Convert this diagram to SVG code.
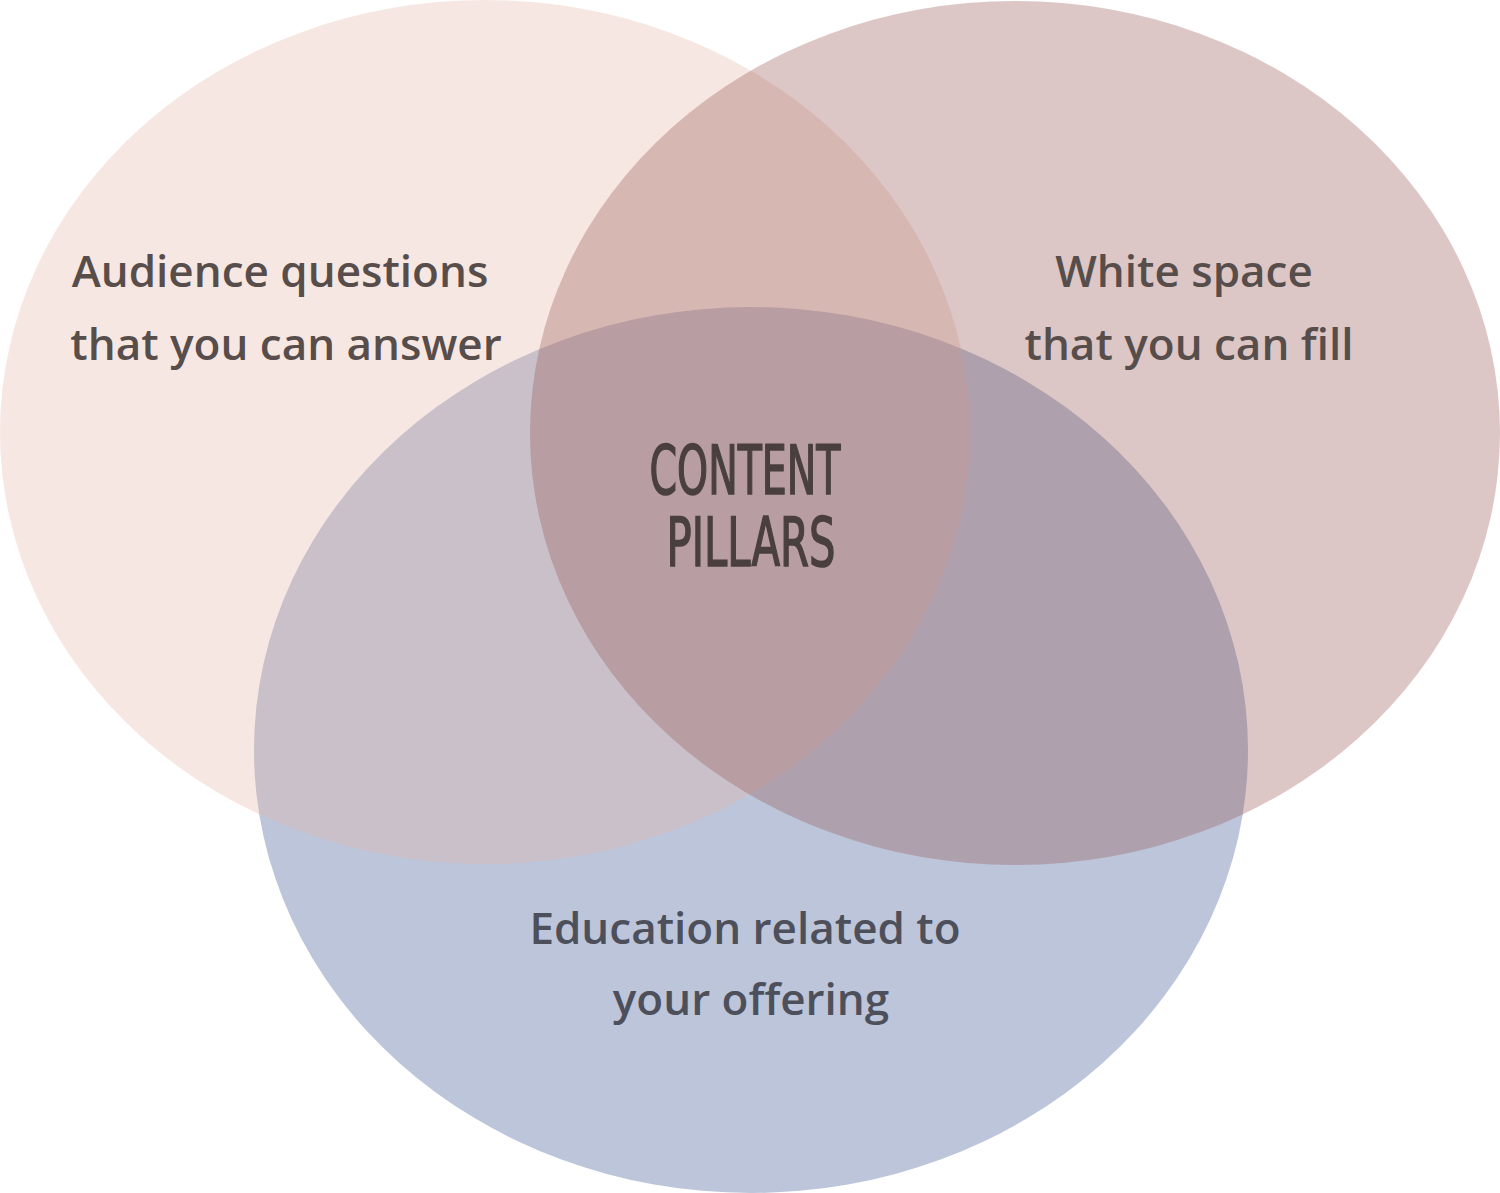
<svg xmlns="http://www.w3.org/2000/svg" width="1500" height="1193" viewBox="0 0 1500 1193">
<style>
.lbl{font-family:"Open Sans","Noto Sans","DejaVu Sans",sans-serif;font-size:44px;font-weight:600;text-anchor:middle;fill:#574d4b}
.blbl{fill:#4d505b}
.ctr{font-family:"Liberation Sans Narrow","DejaVu Sans Condensed","Liberation Sans",sans-serif;font-weight:normal;font-size:68px;text-anchor:middle;fill:#4a3f3f;stroke:#4a3f3f;stroke-width:1.6px}
</style>
<rect width="1500" height="1193" fill="#ffffff"/>
<g id="bottom-circle"><ellipse cx="751" cy="750" rx="497" ry="443" fill="#bdc5da"/></g>
<g id="left-circle"><ellipse cx="485" cy="432" rx="485" ry="432" fill="#e7b6a7" fill-opacity="0.33"/></g>
<g id="right-circle"><ellipse cx="1015" cy="433" rx="485" ry="432" fill="#955552" fill-opacity="0.33"/></g>
<g id="connectors"></g>
<g id="label-left">
<text class="lbl" x="280" y="287">Audience questions</text>
<text class="lbl" x="286" y="360">that you can answer</text>
</g>
<g id="label-right">
<text class="lbl" x="1184" y="287">White space</text>
<text class="lbl" x="1189" y="360">that you can fill</text>
</g>
<g id="label-bottom">
<text class="lbl blbl" x="745" y="944">Education related to</text>
<text class="lbl blbl" x="751" y="1015">your offering</text>
</g>
<g id="center">
<text class="ctr" x="745" y="494" textLength="191" lengthAdjust="spacingAndGlyphs">CONTENT</text>
<text class="ctr" x="751" y="566" textLength="169" lengthAdjust="spacingAndGlyphs">PILLARS</text>
</g>
</svg>
